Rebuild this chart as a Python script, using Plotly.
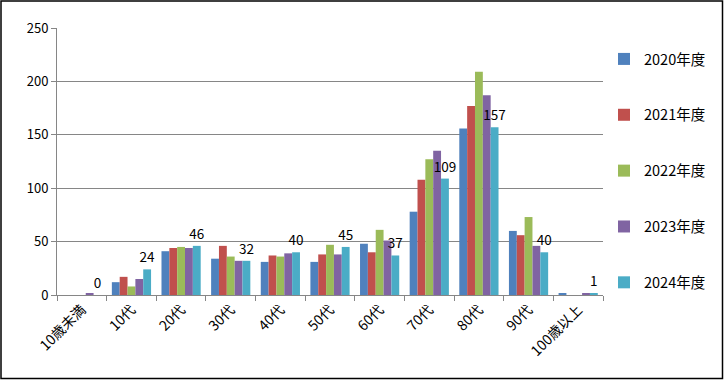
import plotly.graph_objects as go

categories = ["10歳未満", "10代", "20代", "30代", "40代", "50代", "60代", "70代", "80代", "90代", "100歳以上"]
series_names = ["2020年度", "2021年度", "2022年度", "2023年度", "2024年度"]
v2020 = [0, 12, 41, 34, 31, 31, 48, 78, 156, 60, 1]
v2021 = [0, 17, 44, 46, 37, 38, 40, 108, 177, 56, 0]
v2022 = [0, 8, 45, 36, 36, 47, 61, 127, 209, 73, 0]
v2023 = [1, 15, 44, 32, 39, 38, 51, 135, 187, 46, 1]
v2024 = [0, 24, 46, 32, 40, 45, 37, 109, 157, 40, 1]
colors = ["#4F81BD", "#C0504D", "#9BBB59", "#8064A2", "#4BACC6"]
y_ticks = [0, 50, 100, 150, 200, 250]

FONT = "Noto Sans CJK JP, Noto Sans, sans-serif"
W, H = 724, 380
ML, MR, MT, MB = 57, 121, 28, 85
PW, PH = W - ML - MR, H - MT - MB

fig = go.Figure()
all_vals = [v2020, v2021, v2022, v2023, v2024]
for i, (name, vals) in enumerate(zip(series_names, all_vals)):
    last = i == len(series_names) - 1
    fig.add_trace(go.Bar(
        x=categories, y=vals, name=name,
        marker=dict(color=colors[i], line=dict(width=0)),
        legendgroup=name,
        text=[str(v) for v in vals] if last else None,
        textposition="outside" if last else "none",
        constraintext="none",
        textfont=dict(family=FONT, size=13.5, color="#000000"),
        cliponaxis=False,
    ))

fig.update_layout(
    width=W, height=H,
    margin=dict(l=ML, r=MR, t=MT, b=MB, autoexpand=False),
    paper_bgcolor="white", plot_bgcolor="white",
    barmode="group", bargap=0.21, bargroupgap=0,
    font=dict(family=FONT, size=13, color="#000000"),
    showlegend=True,
    legend=dict(
        x=(604 - ML) / PW, xanchor="left",
        y=(H - MB - 43) / PH, yanchor="top",
        font=dict(family=FONT, size=14.5, color="#000000"),
        tracegroupgap=34, itemwidth=30,
        bgcolor="rgba(0,0,0,0)",
    ),
    xaxis=dict(
        type="category", showline=True, linecolor="#868686", linewidth=1,
        ticks="outside", ticklen=5, tickcolor="#868686", tickson="boundaries",
        tickangle=-45, tickfont=dict(family=FONT, size=14),
        showgrid=False,
    ),
    yaxis=dict(
        range=[0, 250], tickvals=y_ticks, showline=True, linecolor="#868686", linewidth=1,
        ticks="outside", ticklen=5, tickcolor="#868686",
        showgrid=True, gridcolor="#868686", gridwidth=1,
        tickfont=dict(family=FONT, size=13), zeroline=False,
    ),
)

# outer chart border
fig.add_shape(
    type="rect", xref="paper", yref="paper",
    x0=(1 - ML) / PW, x1=(722.5 - ML) / PW,
    y0=(H - MB - 378.5) / PH, y1=(H - MB - 1) / PH,
    line=dict(color="#000000", width=1.5), fillcolor="rgba(0,0,0,0)", layer="below",
)

fig.write_html("out.html", config={"displayModeBar": False},
               post_script="document.body.style.margin='0';")
